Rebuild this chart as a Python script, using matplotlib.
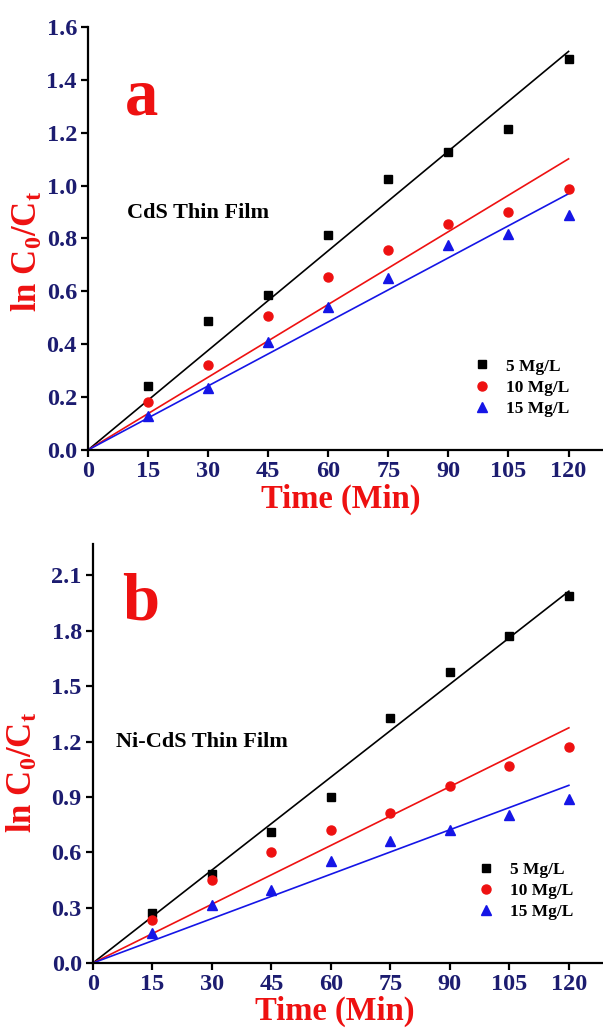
import numpy as np
import matplotlib
matplotlib.use('Agg')
import matplotlib.pyplot as plt

#Fonts like Times bold
plt.rcParams['font.family'] = ['Liberation Serif', 'DejaVu Serif']
plt.rcParams['font.weight'] = 'bold'
plt.rcParams['mathtext.fontset'] = 'custom'
plt.rcParams['mathtext.rm'] = 'Liberation Serif:bold'
plt.rcParams['mathtext.it'] = 'Liberation Serif:bold'
plt.rcParams['mathtext.bf'] = 'Liberation Serif:bold'

#Data
time = [15, 30, 45, 60, 75, 90, 105, 120]
xticks = [0, 15, 30, 45, 60, 75, 90, 105, 120]
labels = ['5 Mg/L', '10 Mg/L', '15 Mg/L']

cds_5 = [0.241, 0.487, 0.585, 0.812, 1.025, 1.129, 1.215, 1.478]
cds_10 = [0.182, 0.320, 0.506, 0.655, 0.755, 0.856, 0.900, 0.989]
cds_15 = [0.128, 0.235, 0.409, 0.542, 0.652, 0.774, 0.818, 0.887]

nicds_5 = [0.270, 0.480, 0.712, 0.898, 1.330, 1.574, 1.772, 1.989]
nicds_10 = [0.231, 0.451, 0.600, 0.718, 0.813, 0.961, 1.069, 1.172]
nicds_15 = [0.163, 0.312, 0.393, 0.555, 0.663, 0.718, 0.804, 0.889]

a_yticks = [0.0, 0.2, 0.4, 0.6, 0.8, 1.0, 1.2, 1.4, 1.6]
b_yticks = [0.0, 0.3, 0.6, 0.9, 1.2, 1.5, 1.8, 2.1]

colors = ['black', '#ee1111', '#1515e6']
markers = ['s', 'o', '^']
msizes = [6, 6.5, 7]
tick_color = '#1c1c70'
label_color = '#ee1111'

fig = plt.figure(figsize=(6.03, 10.28), dpi=100)
ax_a = fig.add_axes([0.146, 0.5623, 0.854, 0.4114])
ax_b = fig.add_axes([0.154, 0.0632, 0.846, 0.4076])


def panel(ax, series, ymax, yticks, letter, letter_pos, title, title_pos, leg_pos, ylab_pos, xlab_pos):
    x = np.array(time, dtype=float)
    fit_x = np.array([0, 120])
    for y, c, m, ms, lab in zip(series, colors, markers, msizes, labels):
        y = np.array(y)
        # linear fit through origin
        k = np.sum(x * y) / np.sum(x * x)
        ax.plot(fit_x, k * fit_x, color=c, lw=1.2, zorder=2)
        ax.plot(x, y, m, color=c, ms=ms, ls='none', label=lab, zorder=3)

    ax.set_xlim(0, 128.6)
    ax.set_ylim(0, ymax)
    ax.set_xticks(xticks)
    ax.set_yticks(yticks)
    ax.set_yticklabels(['%.1f' % v for v in yticks])
    ax.spines['top'].set_visible(False)
    ax.spines['right'].set_visible(False)
    ax.spines['left'].set_linewidth(1.6)
    ax.spines['bottom'].set_linewidth(1.6)
    ax.tick_params(direction='out', length=5, width=1.6, labelsize=17.5,
                   labelcolor=tick_color, pad=3)
    for t in ax.get_xticklabels() + ax.get_yticklabels():
        t.set_fontweight('bold')

    ax.set_xlabel('Time (Min)', fontsize=23.5, color=label_color, fontweight='bold')
    ax.set_ylabel('ln C$_\\mathrm{0}$/C$_\\mathrm{t}$', fontsize=25, color=label_color, fontweight='bold')
    ax.xaxis.set_label_coords(*xlab_pos)
    ax.yaxis.set_label_coords(*ylab_pos)

    ax.text(letter_pos[0], letter_pos[1], letter, color=label_color, fontsize=48,
            fontweight='bold', va='center', ha='left')
    ax.text(title_pos[0], title_pos[1], title, color='black', fontsize=16,
            fontweight='bold', va='center', ha='left')

    ax.legend(loc='center left', bbox_to_anchor=leg_pos, frameon=False,
              fontsize=12.5, handlelength=1.0, handletextpad=0.9,
              labelspacing=0.3, borderpad=0, borderaxespad=0)


panel(ax_a, [cds_5, cds_10, cds_15], 1.6, a_yticks, 'a', (9.3, 1.33),
      'CdS Thin Film', (9.7, 0.896), (0.748, 0.147), (-0.084, 0.47), (0.49, -0.08))
panel(ax_b, [nicds_5, nicds_10, nicds_15], 2.27, b_yticks, 'b', (7.4, 1.95),
      'Ni-CdS Thin Film', (5.8, 1.197), (0.753, 0.172), (-0.104, 0.455), (0.475, -0.077))

fig.savefig('out.png', dpi=100)
